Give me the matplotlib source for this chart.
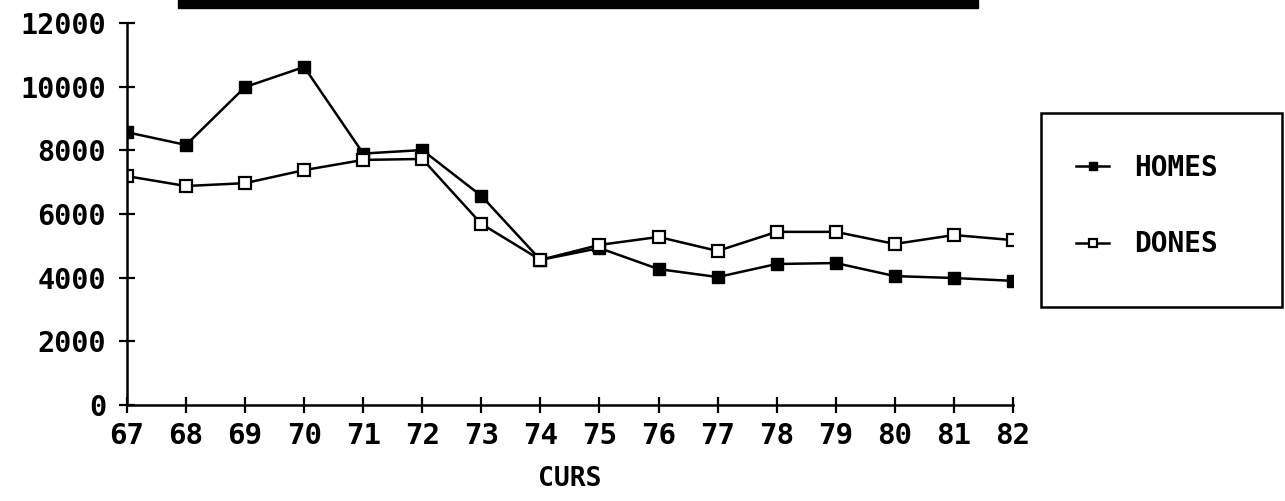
import matplotlib
matplotlib.use("Agg")
import matplotlib.pyplot as plt
from matplotlib.patches import Rectangle

# data
years = ['67', '68', '69', '70', '71', '72', '73', '74',
         '75', '76', '77', '78', '79', '80', '81', '82']
homes = [8570, 8170, 9990, 10620, 7900, 8010, 6570, 4560,
         4930, 4270, 4020, 4430, 4460, 4050, 3990, 3900]
dones = [7190, 6880, 6970, 7380, 7700, 7730, 5690, 4560,
         5030, 5280, 4840, 5440, 5440, 5060, 5340, 5180]
yticks = [0, 2000, 4000, 6000, 8000, 10000, 12000]

fnt = 'DejaVu Sans Mono'

fig = plt.figure(figsize=(12.85, 5.01), dpi=100)
ax = fig.add_axes([0.0988, 0.1916, 0.6895, 0.7624])

x = list(range(len(years)))
ax.plot(x, homes, color='black', lw=1.8, marker='s', ms=8,
        mfc='black', mec='black', label='HOMES')
ax.plot(x, dones, color='black', lw=1.8, marker='s', ms=8,
        mfc='white', mec='black', mew=1.6, label='DONES')

ax.set_xlim(0, len(years) - 1)
ax.set_ylim(0, 12000)
ax.set_xticks(x)
ax.set_xticklabels(years, fontsize=21, fontweight='bold', family=fnt)
ax.set_yticks(yticks)
ax.set_yticklabels([str(v) for v in yticks], fontsize=20.5, fontweight='bold', family=fnt)
ax.tick_params(axis='both', direction='inout', length=12, width=1.6, color='black')
ax.tick_params(axis='x', pad=6)
ax.tick_params(axis='y', pad=9)
for s in ['top', 'right']:
    ax.spines[s].set_visible(False)
for s in ['left', 'bottom']:
    ax.spines[s].set_linewidth(1.8)
ax.set_xlabel('CURS', fontsize=19, fontweight='bold', family=fnt, labelpad=12)

# redacted title bar
fig.patches.append(Rectangle((178 / 1285, 1 - 8 / 501), 800 / 1285, 8 / 501,
                             transform=fig.transFigure, color='black'))

# legend box
fig.patches.append(Rectangle((1041 / 1285, 1 - 307 / 501), 241 / 1285, 194 / 501,
                             transform=fig.transFigure, fill=False,
                             edgecolor='black', lw=1.8))
leg = fig.legend(loc='center', bbox_to_anchor=(1147 / 1285, 1 - 206 / 501),
                 frameon=False, handlelength=1.2, handletextpad=0.9,
                 labelspacing=1.75, markerscale=0.8,
                 prop={'family': fnt, 'weight': 'bold', 'size': 20})

fig.savefig('out.png', dpi=100)
